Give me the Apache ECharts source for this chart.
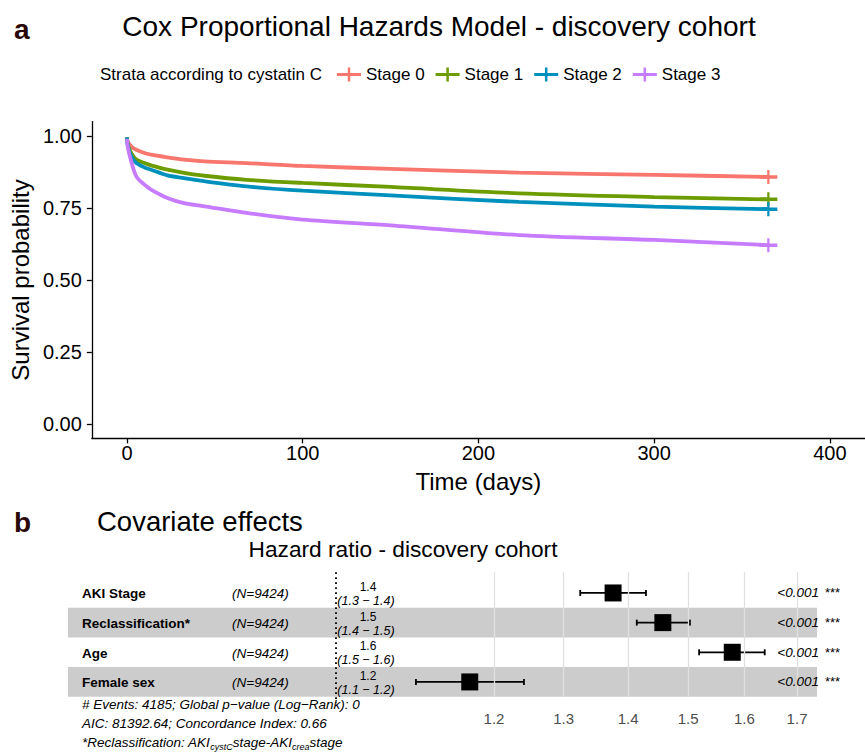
<!DOCTYPE html>
<html>
<head>
<meta charset="utf-8">
<script src="https://cdn.jsdelivr.net/npm/echarts@6/dist/echarts.min.js"></script>
<style>
  html, body { margin: 0; padding: 0; background: #fff; }
  #chart { width: 865px; height: 753px; }
</style>
</head>
<body>
<div id="chart"></div>
<script>
// survival curves (panel a)
const days = [0, 0.5, 2.4, 5.3, 10, 13.7, 23, 32.5, 44, 68, 100, 150, 223, 300, 365];
const stage0 = [0.995, 0.98, 0.964, 0.952, 0.941, 0.935, 0.926, 0.918, 0.912, 0.906, 0.896, 0.886, 0.873, 0.865, 0.858];
const stage1 = [0.995, 0.97, 0.941, 0.918, 0.906, 0.898, 0.883, 0.872, 0.862, 0.848, 0.837, 0.823, 0.801, 0.788, 0.780];
const stage2 = [0.995, 0.965, 0.929, 0.906, 0.891, 0.883, 0.863, 0.854, 0.843, 0.825, 0.810, 0.794, 0.771, 0.755, 0.746];
const stage3 = [0.99, 0.96, 0.912, 0.86, 0.831, 0.814, 0.785, 0.767, 0.756, 0.733, 0.710, 0.690, 0.656, 0.639, 0.621];
const stageNames = ['Stage 0', 'Stage 1', 'Stage 2', 'Stage 3'];
const stageColors = ['#F8766D', '#6C9C00', '#0090BE', '#C77CFF'];
const timeTicks = [0, 100, 200, 300, 400];
const survTicks = [0, 0.25, 0.5, 0.75, 1];

// hazard ratios (panel b)
const covariates = ['AKI Stage', 'Reclassification*', 'Age', 'Female sex'];
const nLabels = ['(N=9424)', '(N=9424)', '(N=9424)', '(N=9424)'];
const hr = [1.376, 1.457, 1.578, 1.167];
const hrLow = [1.325, 1.414, 1.519, 1.097];
const hrHigh = [1.429, 1.503, 1.638, 1.242];
const hrText = ['1.4', '1.5', '1.6', '1.2'];
const ciText = ['(1.3 \u2212 1.4)', '(1.4 \u2212 1.5)', '(1.5 \u2212 1.6)', '(1.1 \u2212 1.2)'];
const pText = ['<0.001', '<0.001', '<0.001', '<0.001'];
const stars = ['***', '***', '***', '***'];
const hrTicks = [1.2, 1.3, 1.4, 1.5, 1.6, 1.7];

const FONT = '"Liberation Sans", Arial, Helvetica, sans-serif';
const PLUS = 'path://M0,4.5H20V7.5H0Z M8.75,0H11.25V12H8.75Z';
const chart = echarts.init(document.getElementById('chart'), null, { renderer: 'svg' });

const survSeries = [stage0, stage1, stage2, stage3].map((s, i) => ({
  name: stageNames[i],
  type: 'line',
  xAxisIndex: 0,
  yAxisIndex: 0,
  data: days.map((d, k) => [d, s[k]]),
  showSymbol: false,
  smooth: 0.3,
  color: stageColors[i],
  lineStyle: { color: stageColors[i], width: 3.8 },
  z: 3
}));

// censor marks at the end of each curve
const censorSeries = [stage0, stage1, stage2, stage3].map((s, i) => ({
  name: stageNames[i],
  type: 'scatter',
  xAxisIndex: 0,
  yAxisIndex: 0,
  data: [[days[days.length - 1], s[s.length - 1]]],
  symbol: PLUS,
  symbolSize: [18, 14],
  itemStyle: { color: stageColors[i], opacity: 1 },
  z: 4
}));

const rowIdx = covariates.map((c, i) => i + 1);
const lnTicks = hrTicks.map(Math.log);

const forestSeries = [
  {
    // shaded rows
    type: 'scatter',
    xAxisIndex: 1, yAxisIndex: 1,
    data: hr.map((v, i) => [Math.log(v), i + 1]),
    symbolSize: 0,
    silent: true,
    z: 1,
    markArea: {
      silent: true,
      itemStyle: { color: '#cccccc', opacity: 1 },
      data: [[{ yAxis: 1.5 }, { yAxis: 2.5 }], [{ yAxis: 3.5 }, { yAxis: 4.5 }]]
    }
  },
  {
    // grid lines
    type: 'scatter',
    xAxisIndex: 1, yAxisIndex: 1,
    data: hr.map((v, i) => [Math.log(v), i + 1]),
    symbolSize: 0,
    silent: true,
    z: 2,
    markLine: {
      silent: true,
      symbol: ['none', 'none'],
      label: { show: false },
      lineStyle: { color: '#e0e0e0', width: 1.3, type: 'solid' },
      data: lnTicks.map(t => [{ coord: [t, 0.3] }, { coord: [t, 4.5] }])
    }
  },
  {
    // reference line at HR = 1
    type: 'scatter',
    xAxisIndex: 1, yAxisIndex: 1,
    data: hr.map((v, i) => [Math.log(v), i + 1]),
    symbolSize: 0,
    silent: true,
    z: 2,
    markLine: {
      silent: true,
      symbol: ['none', 'none'],
      label: { show: false },
      lineStyle: { color: '#000', width: 1.8, type: [1.8, 3.2] },
      data: [[{ coord: [0, 0.3] }, { coord: [0, 4.7] }]]
    }
  },
  {
    // confidence intervals
    type: 'custom',
    xAxisIndex: 1, yAxisIndex: 1,
    data: hr.map((v, i) => [Math.log(hrLow[i]), Math.log(hrHigh[i]), i + 1]),
    encode: { x: [0, 1], y: 2 },
    z: 3,
    renderItem: (params, api) => {
      const lo = api.coord([api.value(0), api.value(2)]);
      const hi = api.coord([api.value(1), api.value(2)]);
      const st = { stroke: '#000', lineWidth: 1.8 };
      return {
        type: 'group',
        children: [
          { type: 'line', shape: { x1: lo[0], y1: lo[1], x2: hi[0], y2: hi[1] }, style: st },
          { type: 'line', shape: { x1: lo[0], y1: lo[1] - 3, x2: lo[0], y2: lo[1] + 3 }, style: st },
          { type: 'line', shape: { x1: hi[0], y1: hi[1] - 3, x2: hi[0], y2: hi[1] + 3 }, style: st }
        ]
      };
    }
  },
  {
    // point estimates
    type: 'scatter',
    xAxisIndex: 1, yAxisIndex: 1,
    data: hr.map((v, i) => [Math.log(v), i + 1]),
    symbol: 'rect',
    symbolSize: 17,
    itemStyle: { color: '#000', opacity: 1 },
    z: 4
  },
  {
    // row texts
    type: 'custom',
    xAxisIndex: 1, yAxisIndex: 1,
    data: rowIdx.map(r => [0, r]),
    z: 5,
    silent: true,
    renderItem: (params, api) => {
      const i = params.dataIndex;
      const y = api.coord([0, api.value(1)])[1];
      const base = { fontFamily: FONT, fill: '#000', verticalAlign: 'middle' };
      return {
        type: 'group',
        children: [
          { type: 'text', style: Object.assign({}, base, { text: covariates[i], x: 82, y: y + 1, fontSize: 13.5, fontWeight: 'bold', align: 'left' }) },
          { type: 'text', style: Object.assign({}, base, { text: nLabels[i], x: 232, y: y + 1, fontSize: 13.5, fontStyle: 'italic', align: 'left' }) },
          { type: 'text', style: Object.assign({}, base, { text: hrText[i], x: 368, y: y - 6, fontSize: 12, align: 'center' }) },
          { type: 'text', style: Object.assign({}, base, { text: ciText[i], x: 366, y: y + 8, fontSize: 12.5, fontStyle: 'italic', align: 'center' }) },
          { type: 'text', style: Object.assign({}, base, { text: pText[i], x: 819, y: y, fontSize: 13.5, fontStyle: 'italic', align: 'right' }) },
          { type: 'text', style: Object.assign({}, base, { text: stars[i], x: 825, y: y, fontSize: 13, align: 'left' }) }
        ]
      };
    }
  }
];

const txt = (x, y, text, style) => ({
  type: 'text', x: x, y: y, silent: true,
  style: Object.assign({ text: text, fontFamily: FONT, fill: '#000', verticalAlign: 'middle', align: 'left' }, style)
});

chart.setOption({
  animation: false,
  backgroundColor: '#fff',
  textStyle: { fontFamily: FONT },
  legend: {
    data: stageNames,
    left: 332,
    top: 61,
    itemWidth: 24,
    itemHeight: 14,
    itemGap: 11,
    icon: 'path://M0,5.5H24V8.5H0Z M10.75,0H13.25V14H10.75Z',
    textStyle: { fontSize: 17, color: '#000', fontFamily: FONT }
  },
  grid: [
    { left: 88, top: 121.6, width: 780, height: 316.8 },
    { left: 68, top: 572.2, width: 749, height: 130.5 }
  ],
  xAxis: [
    {
      gridIndex: 0,
      type: 'value',
      min: -20,
      max: 420,
      name: 'Time (days)',
      nameLocation: 'middle',
      nameGap: 31,
      nameTextStyle: { fontSize: 24, color: '#000', fontFamily: FONT },
      axisLine: { onZero: false, lineStyle: { color: '#000', width: 1.3 } },
      axisTick: { length: 5, lineStyle: { color: '#000', width: 1.3 }, customValues: timeTicks },
      axisLabel: { fontSize: 20, color: '#000', margin: 5, customValues: timeTicks },
      splitLine: { show: false }
    },
    {
      gridIndex: 1,
      type: 'value',
      min: (68 - 335.4) / 870,
      max: (817 - 335.4) / 870,
      axisLine: { show: false },
      axisTick: { show: false, customValues: lnTicks },
      axisLabel: {
        fontSize: 15, color: '#4d4d4d', margin: 8,
        customValues: lnTicks,
        formatter: v => Math.exp(v).toFixed(1)
      },
      splitLine: { show: false }
    }
  ],
  yAxis: [
    {
      gridIndex: 0,
      type: 'value',
      min: -0.05,
      max: 1.05,
      name: 'Survival probability',
      nameLocation: 'middle',
      nameRotate: 90,
      nameGap: 56,
      nameTextStyle: { fontSize: 24, color: '#000', fontFamily: FONT },
      axisLine: { show: true, onZero: false, lineStyle: { color: '#000', width: 1.3 } },
      axisTick: { show: true, length: 5, lineStyle: { color: '#000', width: 1.3 }, customValues: survTicks },
      axisLabel: { fontSize: 20, color: '#000', margin: 10, customValues: survTicks, formatter: v => v.toFixed(2) },
      splitLine: { show: false }
    },
    {
      gridIndex: 1,
      type: 'value',
      inverse: true,
      min: 0.3,
      max: 4.7,
      show: false
    }
  ],
  graphic: [
    txt(14, 29, 'a', { fontSize: 28, fontWeight: 'bold', fill: '#2a0808' }),
    txt(439, 26, 'Cox Proportional Hazards Model - discovery cohort', { fontSize: 28, align: 'center' }),
    txt(100, 74, 'Strata according to cystatin C', { fontSize: 17 }),
    txt(14, 522, 'b', { fontSize: 28, fontWeight: 'bold', fill: '#2a0808' }),
    txt(97, 521, 'Covariate effects', { fontSize: 27.5 }),
    txt(403, 549, 'Hazard ratio - discovery cohort', { fontSize: 22.7, align: 'center' }),
    txt(82, 704, '# Events: 4185; Global p\u2212value (Log\u2212Rank): 0', { fontSize: 13.5, fontStyle: 'italic' }),
    txt(82, 723, 'AIC: 81392.64; Concordance Index: 0.66', { fontSize: 13.5, fontStyle: 'italic' }),
    {
      type: 'text', x: 82, y: 742, silent: true,
      style: {
        text: '{i|*Reclassification: AKI}{s|cystC}{i|stage-AKI}{s|crea}{i|stage}',
        fontFamily: FONT,
        verticalAlign: 'middle',
        rich: {
          i: { fontSize: 13.5, fontStyle: 'italic', fill: '#000', fontFamily: FONT, lineHeight: 18, verticalAlign: 'middle' },
          s: { fontSize: 9, fontStyle: 'italic', fill: '#000', fontFamily: FONT, lineHeight: 18, verticalAlign: 'bottom' }
        }
      }
    }
  ],
  series: survSeries.concat(censorSeries, forestSeries)
});
</script>
</body>
</html>
